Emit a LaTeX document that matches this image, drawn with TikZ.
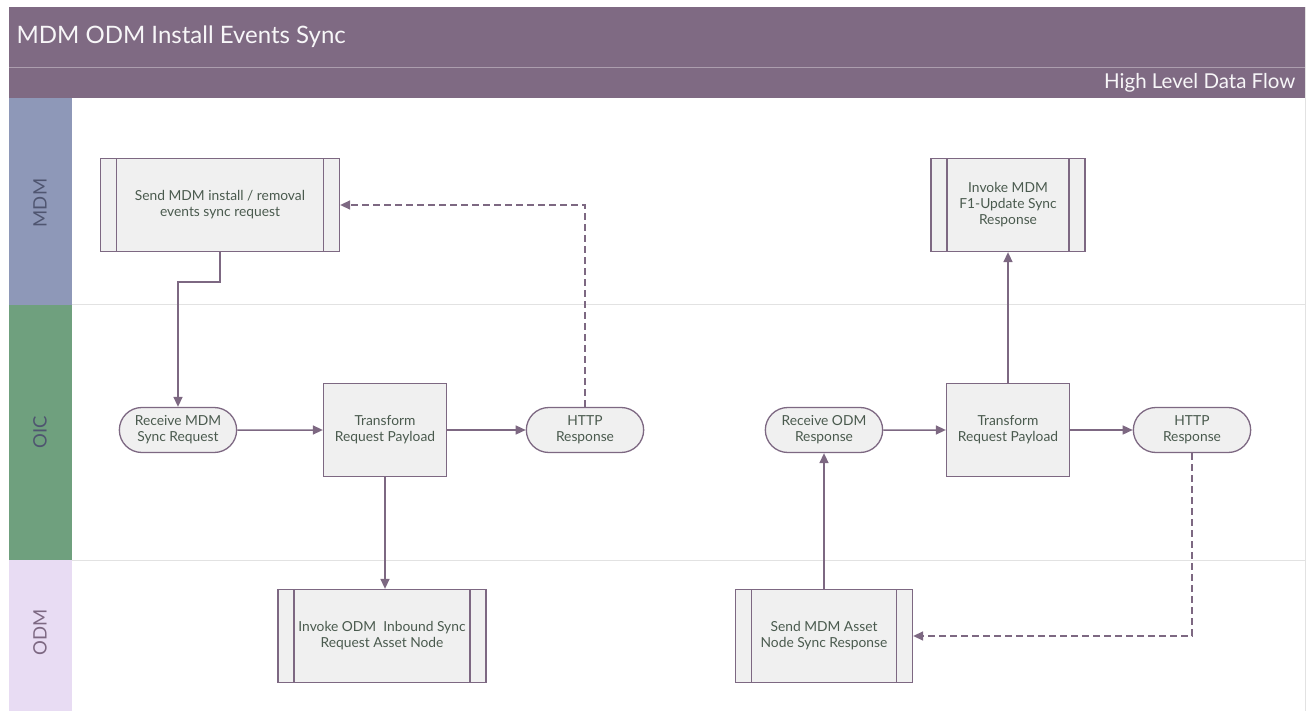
\documentclass[tikz,border=0pt]{standalone}
\usepackage{fontspec}
\setmainfont{Lato}
\usetikzlibrary{shapes.misc, arrows.meta, positioning}
\definecolor{flBar}{HTML}{7F6A83}
\definecolor{flLine}{HTML}{7D6882}
\definecolor{flFill}{HTML}{F0F0F0}
\definecolor{flText}{HTML}{4A5A4E}
\definecolor{flMdm}{HTML}{8E98B8}
\definecolor{flOic}{HTML}{6FA07E}
\definecolor{flOdm}{HTML}{E8DCF3}
\definecolor{flSep}{HTML}{E2E2E2}
\definecolor{flLaneTxt}{HTML}{4F5570}
\tikzset{
  flproc/.style={rectangle, draw=flLine, line width=1.3pt, fill=flFill,
    minimum height=93pt, align=center, text=flText,
    font=\fontsize{13.8}{16}\selectfont,
    path picture={
      \draw[flLine, line width=1.3pt] ([xshift=16pt]path picture bounding box.north west)
        -- ([xshift=16pt]path picture bounding box.south west);
      \draw[flLine, line width=1.3pt] ([xshift=-16pt]path picture bounding box.north east)
        -- ([xshift=-16pt]path picture bounding box.south east);
    }},
  fltask/.style={rectangle, draw=flLine, line width=1.3pt, fill=flFill,
    minimum width=123pt, minimum height=93pt, align=center, text=flText,
    font=\fontsize{13.8}{16}\selectfont},
  flterm/.style={rounded rectangle, draw=flLine, line width=1.3pt, fill=flFill,
    minimum width=124pt, minimum height=45pt, align=center, text=flText,
    font=\fontsize{13.8}{16}\selectfont},
  flarrow/.style={-{Triangle[length=10pt, width=9pt]}, line width=1.5pt, flLine},
  fldash/.style={flarrow, dash pattern=on 7pt off 4pt},
  lanelbl/.style={rotate=90, font=\fontsize{18.5}{20}\selectfont, text=flLaneTxt}
}
\begin{document}
\begin{tikzpicture}[x=1pt, y=-1pt]
  \useasboundingbox (0,0) rectangle (1309,711);
  % frame and title bar
  \draw[flSep] (9,7) rectangle (1305,711);
  \fill[flBar] (9,7) rectangle (1305,98);
  \draw[white!35!flBar, line width=1.2pt] (9,67.5) -- (1305,67.5);
  \node[anchor=west, text=white!94!flBar, font=\fontsize{24}{26}\selectfont] (title) at (13,37) {MDM ODM Install Events Sync};
  \node[anchor=east, text=white!94!flBar, font=\fontsize{20.5}{22}\selectfont] (subtitle) at (1299,83) {High Level Data Flow};

  % swim lanes
  \fill[flMdm] (9,98) rectangle (72,305);
  \fill[flOic] (9,305) rectangle (72,560);
  \fill[flOdm] (9,560) rectangle (72,711);
  \draw[flSep, line width=1pt] (72,305) -- (1305,305);
  \draw[flSep, line width=1pt] (72,560) -- (1305,560);
  \node[lanelbl] (lmdm) at (40,203) {MDM};
  \node[lanelbl] (loic) at (40,432) {OIC};
  \node[lanelbl, text=flLine] (lodm) at (40,632) {ODM};

  % first flow
  \node[flproc, minimum width=239pt] (sendreq) at (220,205) {Send MDM install / removal\\events sync request};
  \node[flterm] (recvmdm) at (178,430) {Receive MDM\\Sync Request};
  \node[fltask] (trans1) at (385,430) {Transform\\Request Payload};
  \node[flterm] (http1) at (585,430) {HTTP\\Response};
  \node[flproc, minimum width=208pt] (invodm) at (382,636) {Invoke ODM\ \ Inbound Sync\\Request Asset Node};

  % second flow
  \node[flproc, minimum width=154pt] (invmdm) at (1008,205) {Invoke MDM\\F1-Update Sync\\Response};
  \node[flterm] (recvodm) at (824,430) {Receive ODM\\Response};
  \node[fltask] (trans2) at (1008,430) {Transform\\Request Payload};
  \node[flterm] (http2) at (1192,430) {HTTP\\Response};
  \node[flproc, minimum width=177pt] (sendasset) at (824,636) {Send MDM Asset\\Node Sync Response};

  % connectors
  \draw[flarrow] (sendreq.south) -- ++(0,30) -| (recvmdm.north);
  \draw[flarrow] (recvmdm) -- (trans1);
  \draw[flarrow] (trans1) -- (http1);
  \draw[fldash] (http1.north) |- (sendreq.east);
  \draw[flarrow] (trans1.south) -- (trans1.south |- invodm.north);
  \draw[flarrow] (sendasset.north) -- (recvodm.south);
  \draw[flarrow] (recvodm) -- (trans2);
  \draw[flarrow] (trans2.north) -- (invmdm.south);
  \draw[flarrow] (trans2) -- (http2);
  \draw[fldash] (http2.south) |- (sendasset.east);
\end{tikzpicture}
\end{document}
